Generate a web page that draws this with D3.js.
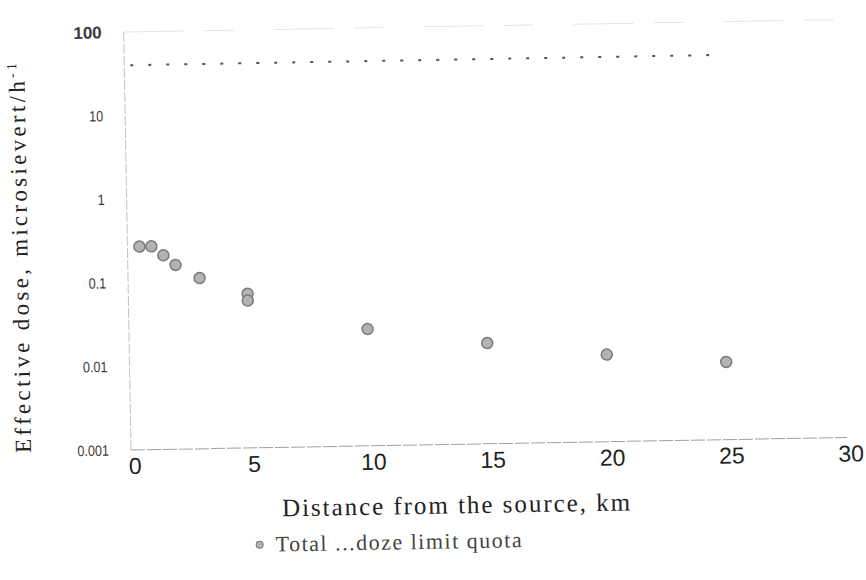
<!DOCTYPE html>
<html lang="en">
<head>
    <meta charset="UTF-8">
    <title>Effective dose vs distance</title>
    <script src="https://d3js.org/d3.v7.min.js"></script>
    <style>
        body { margin: 0; background: #fff; }
        svg { display: block; }
        .tick-y { font-family: "Liberation Sans", Arial, sans-serif; font-size: 15px; fill: #3a3a3a; }
        .tick-x { font-family: "Liberation Sans", Arial, sans-serif; font-size: 23px; fill: #222; }
        .title { font-family: "Liberation Serif", "Times New Roman", serif; fill: #222; }
    </style>
</head>
<body>
    <svg width="866" height="580"></svg>

    <script>
        // data
        const distance = [0.5, 1, 1.5, 2, 3, 5, 5, 10, 15, 20, 25];
        const dose = [0.27, 0.27, 0.21, 0.16, 0.11, 0.07, 0.058, 0.025, 0.016, 0.011, 0.0085];
        const limitDistance = [0, 25];
        const limitDose = [40, 40];
        const xTicks = [0, 5, 10, 15, 20, 25, 30];
        const yTicks = [0.001, 0.01, 0.1, 1, 10, 100];
        const yTickLabels = ["0.001", "0.01", "0.1", "1", "10", "100"];
        const legendLabel = "Total ...doze limit quota";

        const plotLeft = 131, plotBottom = 450, plotTop = 32, plotRight = 847;
        const svg = d3.select("svg");
        // the scanned chart is tilted by about one degree
        const g = svg.append("g").attr("transform", `rotate(-1, ${plotLeft}, ${plotBottom})`);

        const x = d3.scaleLinear().domain([0, 30]).range([plotLeft, plotRight]);
        const y = d3.scaleLog().domain([0.001, 100]).range([plotBottom, plotTop]);

        // frame
        g.append("line")
            .attr("x1", plotLeft).attr("x2", plotRight).attr("y1", plotTop).attr("y2", plotTop)
            .attr("stroke", "#e4e4e4").attr("stroke-dasharray", "60,20,30,40");
        g.append("line")
            .attr("x1", plotLeft).attr("x2", plotLeft).attr("y1", plotTop).attr("y2", plotBottom)
            .attr("stroke", "#c4c4c4").attr("stroke-dasharray", "10,2");
        g.append("line")
            .attr("x1", plotLeft).attr("x2", plotRight).attr("y1", plotBottom).attr("y2", plotBottom)
            .attr("stroke", "#a0a0a0").attr("stroke-dasharray", "14,2");

        // y tick labels (the scan shows a narrow face)
        g.selectAll(".tick-y")
            .data(yTicks)
            .join("text")
            .attr("class", "tick-y")
            .attr("x", plotLeft - 22)
            .attr("y", d => y(d))
            .attr("dy", "0.35em")
            .attr("text-anchor", "end")
            .style("font-weight", d => d === 100 ? "bold" : "normal")
            .style("font-size", d => d === 100 ? "17px" : null)
            .text((d, i) => yTickLabels[i])
            .each(function(d) {
                const w = this.getComputedTextLength();
                d3.select(this)
                    .attr("textLength", w * (d === 100 ? 1 : 0.84))
                    .attr("lengthAdjust", "spacingAndGlyphs");
            });

        // x tick labels
        g.selectAll(".tick-x")
            .data(xTicks)
            .join("text")
            .attr("class", "tick-x")
            .attr("x", d => x(d) + 4)
            .attr("y", plotBottom + 16)
            .attr("dy", "0.35em")
            .attr("text-anchor", "middle")
            .text(d => d);

        // dose limit line
        g.append("path")
            .datum(limitDistance.map((d, i) => [d, limitDose[i]]))
            .attr("fill", "none")
            .attr("stroke", "#555")
            .attr("stroke-width", 2)
            .attr("stroke-dasharray", "3,15")
            .attr("stroke-dashoffset", -6)
            .attr("d", d3.line().x(d => x(d[0])).y(d => y(d[1])));

        // points
        g.selectAll(".pt")
            .data(distance.map((d, i) => [d, dose[i]]))
            .join("circle")
            .attr("class", "pt")
            .attr("cx", d => x(d[0]))
            .attr("cy", d => y(d[1]))
            .attr("r", 5.5)
            .attr("fill", "#b3b3b3")
            .attr("stroke", "#7a7a7a")
            .attr("stroke-width", 1.5);

        // axis titles
        g.append("text")
            .attr("class", "title")
            .attr("x", 455).attr("y", 519)
            .attr("text-anchor", "middle")
            .style("font-size", "25px")
            .attr("textLength", 348)
            .text("Distance from the source, km");

        const yt = g.append("text")
            .attr("class", "title")
            .attr("transform", "translate(31,256) rotate(-90)")
            .attr("text-anchor", "middle")
            .style("font-size", "23px")
            .attr("textLength", 390);
        yt.append("tspan").text("Effective dose, microsievert/h");
        yt.append("tspan").attr("dy", -8).style("font-size", "14px").text("-1");

        // legend
        g.append("circle")
            .attr("cx", 258).attr("cy", 547).attr("r", 3.5)
            .attr("fill", "#b3b3b3").attr("stroke", "#7a7a7a").attr("stroke-width", 1);
        g.append("text")
            .attr("class", "title")
            .attr("x", 274).attr("y", 554)
            .style("font-size", "22px")
            .style("fill", "#444")
            .attr("textLength", 246)
            .text(legendLabel);
    </script>
</body>
</html>
